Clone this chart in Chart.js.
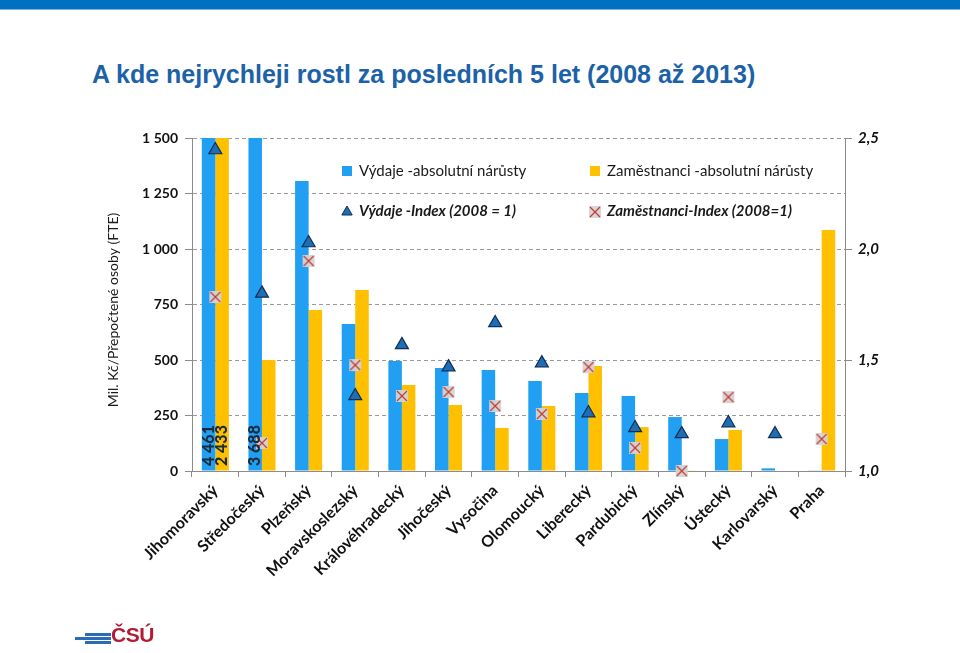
<!DOCTYPE html>
<html>
<head>
<meta charset="utf-8">
<script src="https://cdn.jsdelivr.net/npm/chart.js"></script>
<style>
  body { margin:0; width:960px; height:653px; overflow:hidden; position:relative; background:#fff; font-family:"Liberation Sans", Arial, sans-serif; }
  #band { position:absolute; left:0; top:0; width:960px; height:9px; background:#0070c0; border-bottom:1px solid #7db6e3; }
  #title { position:absolute; left:92px; top:60px; font-size:25px; font-weight:bold; color:#1c62a8; white-space:nowrap; }
  #box { position:absolute; left:0; top:0; }
  #logo { position:absolute; left:75px; top:627px; height:20px; width:90px; }
  #logo .s { position:absolute; height:3px; background:#2a6db5; }
  #logo .t { position:absolute; left:36px; top:-4px; font-family:"Liberation Sans", Arial, sans-serif; font-weight:bold; font-size:21px; color:#b31b34; letter-spacing:-0.5px; }
</style>
</head>
<body>
<div id="band"></div>
<div id="title">A kde nejrychleji rostl za posledních 5 let (2008 až 2013)</div>
<canvas id="box" width="960" height="653"></canvas>
<div id="logo">
  <div class="s" style="left:10px;top:6px;width:26px"></div>
  <div class="s" style="left:0px;top:10px;width:36px"></div>
  <div class="s" style="left:10px;top:14px;width:26px"></div>
  <div class="t">ČSÚ</div>
</div>
<script>
// kraje, serazene podle narustu vydaju
var categories = ['Jihomoravský', 'Středočeský', 'Plzeňský', 'Moravskoslezský', 'Královéhradecký',
  'Jihočeský', 'Vysočina', 'Olomoucký', 'Liberecký', 'Pardubický', 'Zlínský', 'Ústecký', 'Karlovarský', 'Praha'];

var vydajeAbs = [4461, 3688, 1306, 662, 495, 464, 455, 405, 351, 338, 243, 144, 12, 3];
var zamestAbs = [2433, 500, 725, 815, 387, 297, 194, 293, 473, 198, 3, 185, 0, 1086];
var vydajeIdx = [2.446, 1.80, 2.027, 1.338, 1.568, 1.468, 1.667, 1.486, 1.261, 1.194, 1.167, 1.216, 1.167, null];
var zamestIdx = [1.784, 1.126, 1.946, 1.477, 1.338, 1.356, 1.293, 1.257, 1.468, 1.104, 1.0, 1.333, null, 1.144];

var leftMax = 1500, leftStep = 250;
var rightMin = 1.0, rightMax = 2.5, rightStep = 0.5;
var yTitle = 'Mil. Kč/Přepočtené osoby (FTE)';

function fmt(v) { return String(v).replace(/\B(?=(\d{3})+(?!\d))/g, ' '); }

// krizek na sedem ctverecku
var crossImg = document.createElement('canvas');
crossImg.width = 14; crossImg.height = 14;
(function () {
  var c = crossImg.getContext('2d');
  c.fillStyle = 'rgba(215,210,212,0.95)';
  c.fillRect(1, 1, 12, 12);
  c.strokeStyle = '#c0392b';
  c.lineWidth = 1.1;
  c.beginPath();
  c.moveTo(2, 2); c.lineTo(12, 12);
  c.moveTo(12, 2); c.lineTo(2, 12);
  c.stroke();
})();

var innerLegend = {
  id: 'innerLegend',
  afterDatasetsDraw: function (chart) {
    var ctx = chart.ctx;
    var cols = [347, 595], rows = [171, 211];
    chart.data.datasets.forEach(function (ds, i) {
      var x = cols[i % 2], y = rows[Math.floor(i / 2)];
      ctx.save();
      if (ds.type === 'bar') {
        ctx.fillStyle = ds.backgroundColor;
        ctx.fillRect(x - 5, y - 5, 10, 10);
        ctx.font = '15px Lato';
      } else {
        ctx.fillStyle = ds.backgroundColor;
        ctx.strokeStyle = ds.borderColor;
        ctx.lineWidth = 1;
        Chart.helpers.drawPoint(ctx, { pointStyle: ds.pointStyle, radius: 6, rotation: 0, borderWidth: 1 }, x, y + 1);
        ctx.font = 'italic bold 15px Lato';
      }
      ctx.fillStyle = '#1a1a1a';
      ctx.textBaseline = 'middle';
      ctx.fillText(ds.label, x + 12, y);
      ctx.restore();
    });
  }
};

var overflowLabels = {
  id: 'overflowLabels',
  afterDatasetsDraw: function (chart) {
    var ctx = chart.ctx, bottom = chart.chartArea.bottom;
    [0, 1].forEach(function (di) {
      var meta = chart.getDatasetMeta(di);
      chart.data.datasets[di].data.forEach(function (v, j) {
        if (v <= leftMax) return;
        ctx.save();
        ctx.translate(meta.data[j].x, bottom - 5);
        ctx.rotate(-Math.PI / 2);
        ctx.font = '900 16px Lato';
        ctx.fillStyle = '#1b2a3a';
        ctx.textAlign = 'left';
        ctx.textBaseline = 'middle';
        ctx.fillText(fmt(v), 0, 0);
        ctx.restore();
      });
    });
  }
};

// popisek osy y trochu niz nez stred grafu, jako v originale
var axisTitle = {
  id: 'axisTitle',
  afterDraw: function (chart) {
    var ctx = chart.ctx;
    ctx.save();
    ctx.translate(113, 310);
    ctx.rotate(-Math.PI / 2);
    ctx.font = '14px Lato';
    ctx.fillStyle = '#1a1a1a';
    ctx.textAlign = 'center';
    ctx.textBaseline = 'middle';
    ctx.fillText(yTitle, 0, 0);
    ctx.restore();
  }
};

Chart.defaults.font.family = 'Lato';

var axisGray = '#8c8c8c';

new Chart(document.getElementById('box'), {
  data: {
    labels: categories,
    datasets: [
      { type: 'bar', label: 'Výdaje -absolutní nárůsty', data: vydajeAbs, backgroundColor: '#21a0f3',
        yAxisID: 'y', categoryPercentage: 0.58, barPercentage: 1, order: 2 },
      { type: 'bar', label: 'Zaměstnanci -absolutní nárůsty', data: zamestAbs, backgroundColor: '#ffc000',
        yAxisID: 'y', categoryPercentage: 0.58, barPercentage: 1, order: 2 },
      { type: 'line', label: 'Výdaje -Index (2008 = 1)', data: vydajeIdx, yAxisID: 'y2', showLine: false,
        pointStyle: 'triangle', pointRadius: 7.5, backgroundColor: '#1f6db4', borderColor: '#0f2f52',
        borderWidth: 1.2, clip: false, order: 1 },
      { type: 'line', label: 'Zaměstnanci-Index (2008=1)', data: zamestIdx, yAxisID: 'y2', showLine: false,
        pointStyle: crossImg, pointRadius: 7, backgroundColor: '#c0392b', borderColor: '#c0392b',
        clip: false, order: 0 }
    ]
  },
  options: {
    responsive: false,
    animation: false,
    layout: { padding: { left: 90, right: 40, top: 138, bottom: 62 } },
    plugins: { legend: { display: false }, tooltip: { enabled: false } },
    scales: {
      x: {
        grid: { drawOnChartArea: false, offset: true, tickLength: 6, color: axisGray },
        border: { color: axisGray },
        ticks: { minRotation: 45, maxRotation: 45, color: '#111', padding: 4,
          font: { size: 16, weight: 'bold' } },
        afterFit: function (s) { s.height = 120; }
      },
      y: {
        position: 'left', min: 0, max: leftMax,
        ticks: { stepSize: leftStep, padding: 7, color: '#111', font: { size: 14, weight: 'bold' },
          callback: function (v) { return fmt(v); } },
        grid: { color: '#9a9a9a', tickLength: 7, tickColor: axisGray, tickBorderDash: [] },
        border: { color: axisGray, dash: [4, 3] },
        afterFit: function (s) { s.width = 102; }
      },
      y2: {
        position: 'right', min: rightMin, max: rightMax,
        ticks: { stepSize: rightStep, padding: 6, color: '#111',
          font: { size: 15, weight: 'bold', style: 'italic' },
          callback: function (v) { return v.toFixed(1).replace('.', ','); } },
        grid: { drawOnChartArea: false, tickLength: 7, color: axisGray },
        border: { color: axisGray },
        afterFit: function (s) { s.width = 75; }
      }
    }
  },
  plugins: [innerLegend, overflowLabels, axisTitle]
});
</script>
</body>
</html>
